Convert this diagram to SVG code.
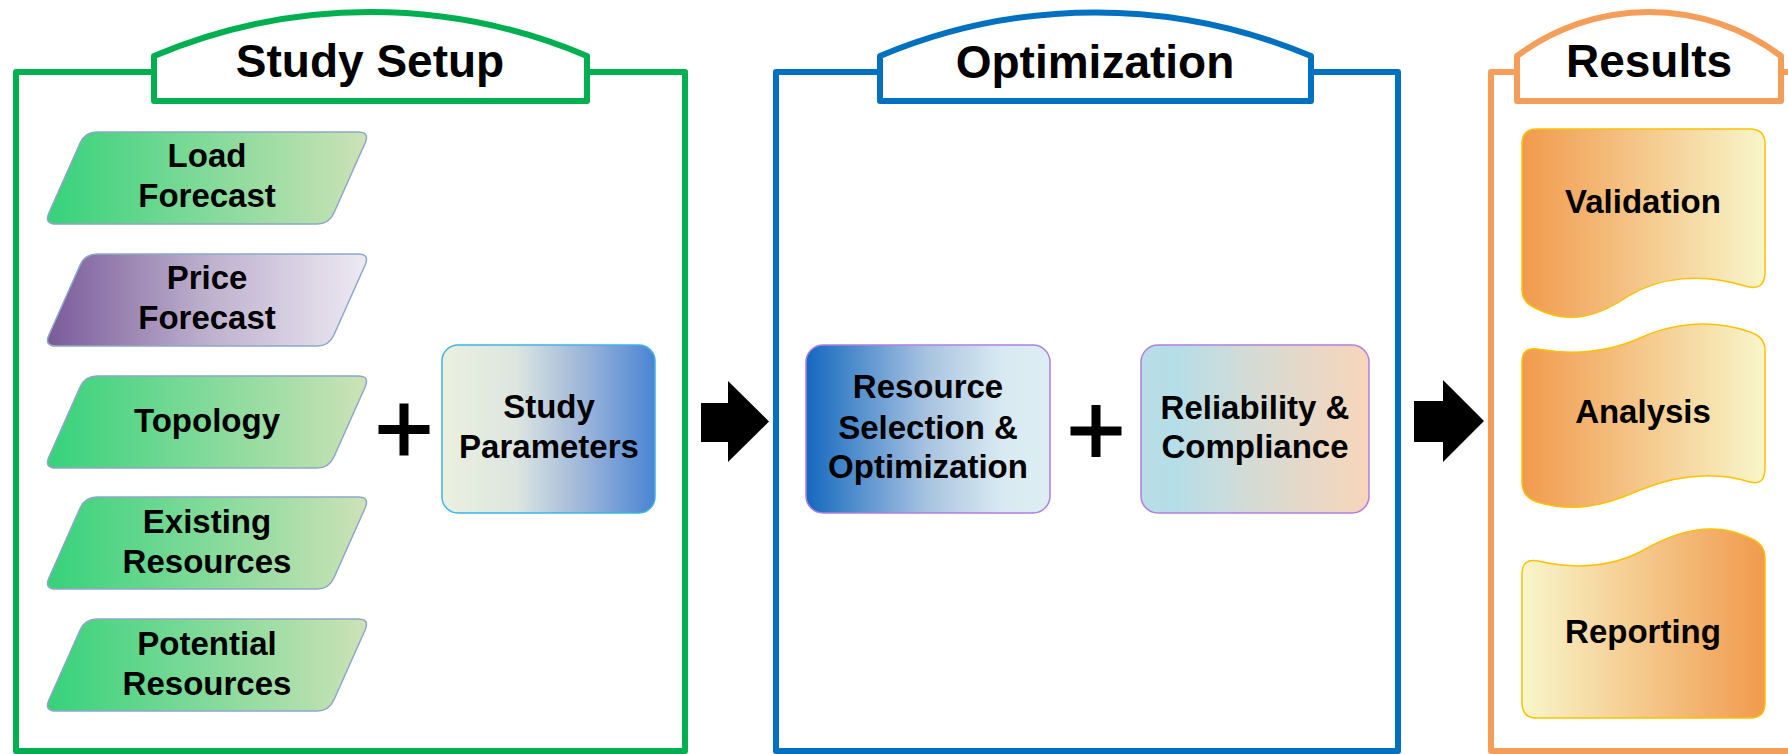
<svg xmlns="http://www.w3.org/2000/svg" width="1788" height="754" viewBox="0 0 1788 754">
<defs>
<style>
text{font-family:"Liberation Sans",Arial,sans-serif;font-weight:bold;fill:#000;text-anchor:middle}
.t{font-size:46px}
.n{font-size:33px}
.frame{fill:none;stroke-width:6;stroke-linejoin:round}
.tab{fill:#fff;stroke-width:6;stroke-linejoin:round}
.para{stroke:#8EA6CC;stroke-width:1.5}
.doc{stroke:#FFC000;stroke-width:1.5}
</style>
<linearGradient id="gGreen" x1="0" y1="0" x2="1" y2="0"><stop offset="0" stop-color="#36D27A"/><stop offset="1" stop-color="#CDE2B7"/></linearGradient>
<linearGradient id="gPurple" x1="0" y1="0" x2="1" y2="0"><stop offset="0" stop-color="#7A5B9A"/><stop offset="0.5" stop-color="#BDB0CD"/><stop offset="1" stop-color="#EDEAF3"/></linearGradient>
<linearGradient id="gParam" x1="0" y1="0" x2="1" y2="0"><stop offset="0" stop-color="#EBF1DF"/><stop offset="0.35" stop-color="#DCE5E0"/><stop offset="0.7" stop-color="#95B0D9"/><stop offset="1" stop-color="#4A84D2"/></linearGradient>
<linearGradient id="gRes" x1="0" y1="0" x2="1" y2="0"><stop offset="0" stop-color="#1468BF"/><stop offset="0.5" stop-color="#A9C4E1"/><stop offset="0.8" stop-color="#D8E9F1"/><stop offset="1" stop-color="#DEEEF4"/></linearGradient>
<linearGradient id="gRel" x1="0" y1="0" x2="1" y2="0"><stop offset="0" stop-color="#B9DDE6"/><stop offset="0.15" stop-color="#B5DEE8"/><stop offset="0.5" stop-color="#D6DBD4"/><stop offset="1" stop-color="#F8D5BA"/></linearGradient>
<linearGradient id="gDoc" x1="0" y1="0" x2="1" y2="0"><stop offset="0" stop-color="#F19A4D"/><stop offset="1" stop-color="#F8F6CA"/></linearGradient>
<linearGradient id="gDocR" x1="0" y1="0" x2="1" y2="0"><stop offset="0" stop-color="#F8F6CA"/><stop offset="1" stop-color="#F19A4D"/></linearGradient>
<path id="para" d="M53,0 H314 Q326,0 321.1,11 L289.9,81 Q285,92 273,92 H12 Q0,92 4.9,81 L36.1,11 Q41,0 53,0 Z"/>
</defs>

<g id="frame-study-setup">
<path class="frame" stroke="#00B050" d="M16,72 H685 V751 H16 Z"/>
<path class="tab" stroke="#00B050" d="M154,101 V56 A554.6,554.6 0 0 1 587,56 V101 Z"/>
<text class="t" x="370" y="77">Study Setup</text>
</g>
<g id="frame-optimization">
<path class="frame" stroke="#0070C0" d="M776,72 H1398 V751 H776 Z"/>
<path class="tab" stroke="#0070C0" d="M880,101 V56 A554.6,554.6 0 0 1 1311,56 V101 Z"/>
<text class="t" x="1095" y="78">Optimization</text>
</g>
<g id="frame-results">
<path class="frame" stroke="#F59E5A" d="M1800,72 H1491 V751 H1800"/>
<path class="tab" stroke="#F59E5A" d="M1517,101 V56 A220,220 0 0 1 1781,56 V101 Z"/>
<text class="t" x="1649" y="77">Results</text>
</g>

<g id="load-forecast">
<use href="#para" class="para" fill="url(#gGreen)" transform="translate(44,132)"/>
<text class="n" x="207" y="167">Load</text>
<text class="n" x="207" y="207">Forecast</text>
</g>
<g id="price-forecast">
<use href="#para" class="para" fill="url(#gPurple)" transform="translate(44,254)"/>
<text class="n" x="207" y="289">Price</text>
<text class="n" x="207" y="329">Forecast</text>
</g>
<g id="topology">
<use href="#para" class="para" fill="url(#gGreen)" transform="translate(44,376)"/>
<text class="n" x="207" y="432">Topology</text>
</g>
<g id="existing-resources">
<use href="#para" class="para" fill="url(#gGreen)" transform="translate(44,497)"/>
<text class="n" x="207" y="533">Existing</text>
<text class="n" x="207" y="573">Resources</text>
</g>
<g id="potential-resources">
<use href="#para" class="para" fill="url(#gGreen)" transform="translate(44,619)"/>
<text class="n" x="207" y="655">Potential</text>
<text class="n" x="207" y="695">Resources</text>
</g>

<g id="plus-1">
<path fill="#000" d="M399.5,403.5 h9 v21.5 h21 v9 h-21 v21.5 h-9 v-21.5 h-21 v-9 h21 Z"/>
</g>

<g id="study-parameters">
<rect x="442" y="345" width="213" height="168" rx="16" fill="url(#gParam)" stroke="#3DB4E6" stroke-width="1.5"/>
<text class="n" x="549" y="418">Study</text>
<text class="n" x="549" y="458">Parameters</text>
</g>

<g id="resource-selection">
<rect x="806" y="345" width="244" height="168" rx="17" fill="url(#gRes)" stroke="#B07FE0" stroke-width="1.5"/>
<text class="n" x="928" y="398">Resource</text>
<text class="n" x="928" y="439">Selection &amp;</text>
<text class="n" x="928" y="478">Optimization</text>
</g>

<g id="plus-2">
<path fill="#000" d="M1091.5,405 h9 v21.5 h21 v9 h-21 v21.5 h-9 v-21.5 h-21 v-9 h21 Z"/>
</g>

<g id="reliability-compliance">
<rect x="1141" y="345" width="228" height="168" rx="17" fill="url(#gRel)" stroke="#B07FE0" stroke-width="1.5"/>
<text class="n" x="1255" y="419">Reliability &amp;</text>
<text class="n" x="1255" y="458">Compliance</text>
</g>

<g id="validation">
<path class="doc" fill="url(#gDoc)" d="M1522,144 Q1522,129 1537,129 H1750 Q1765,129 1765,144 V272 Q1765,292 1745,286 C1700,272 1660,278 1630,295 C1600,316 1570,326 1535,308 Q1522,302 1522,290 Z"/>
<text class="n" x="1643" y="213">Validation</text>
</g>
<g id="analysis">
<path class="doc" fill="url(#gDoc)" d="M1522,362 Q1522,347 1537,349 C1560,353 1600,356 1640,338 C1670,324 1710,318 1750,332 Q1765,337 1765,350 V468 Q1765,486 1750,482 C1710,470 1670,478 1640,490 C1600,508 1570,512 1537,502 Q1522,497 1522,482 Z"/>
<text class="n" x="1643" y="423">Analysis</text>
</g>
<g id="reporting">
<path class="doc" fill="url(#gDocR)" d="M1522,574 Q1522,558 1538,561 C1560,566 1600,572 1640,552 C1670,534 1710,518 1750,538 Q1765,544 1765,558 V703 Q1765,718 1750,718 H1537 Q1522,718 1522,703 Z"/>
<text class="n" x="1643" y="643">Reporting</text>
</g>

<g id="connectors">
<polygon fill="#000" points="701,403 728,403 728,381 769,421.5 728,462 728,442 701,442"/>
<polygon fill="#000" points="1414,401 1443,401 1443,380 1484,421 1443,462 1443,442 1414,442"/>
</g>
</svg>
